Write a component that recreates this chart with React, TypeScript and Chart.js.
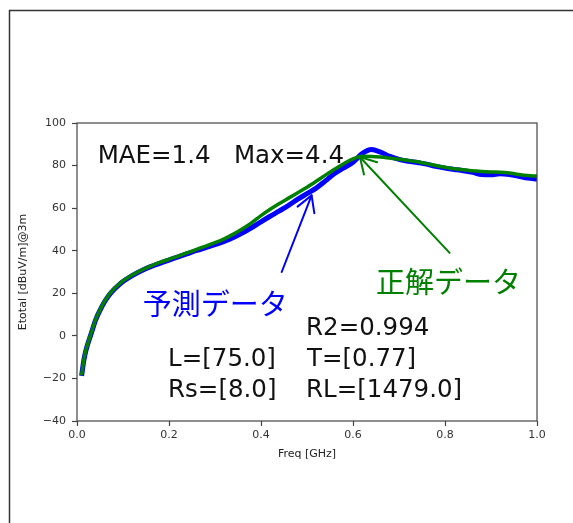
import React, { useEffect, useRef } from "react";
import { Chart, registerables } from "chart.js";

Chart.register(...registerables);

// ---- data ----
const freqGHz = [
  0.01, 0.015, 0.02, 0.03, 0.04, 0.05, 0.06, 0.07, 0.08, 0.09,
  0.1, 0.12, 0.14, 0.16, 0.18, 0.2, 0.22, 0.24, 0.26, 0.28,
  0.3, 0.32, 0.34, 0.36, 0.38, 0.4, 0.42, 0.44, 0.46, 0.48,
  0.5, 0.52, 0.54, 0.56, 0.58, 0.6, 0.62, 0.64, 0.66, 0.68,
  0.7, 0.72, 0.74, 0.76, 0.78, 0.8, 0.82, 0.84, 0.86, 0.88,
  0.9, 0.92, 0.94, 0.96, 0.98, 1.0,
];

// 正解データ (ground truth, green)
const truthValues = [
  -18.5, -11, -6, 0.8, 7.5, 12.3, 16.3, 19.5, 22, 24,
  25.8, 28.6, 30.9, 32.8, 34.5, 36, 37.5, 39.1, 40.6, 42.2,
  43.8, 45.6, 47.8, 50.3, 53.2, 56.5, 59.5, 62.2, 64.7, 67.2,
  69.8, 72.6, 75.5, 78.3, 80.9, 83.1, 84.4, 84.3, 84, 83.5,
  83, 82.4, 81.8, 80.9, 80, 79.2, 78.5, 78, 77.6, 77.2,
  77, 76.9, 76.5, 75.8, 75.3, 75.1,
];

// 予測データ (prediction, blue)
const predValues = [
  -18.8, -11.3, -6.3, 0.5, 7.2, 12, 16, 19.2, 21.7, 23.7,
  25.5, 28.3, 30.6, 32.5, 34.1, 35.6, 37.1, 38.6, 40.1, 41.5,
  42.9, 44.4, 46.2, 48.4, 50.9, 53.6, 56.2, 58.7, 61.3, 64.2,
  66.8, 69.4, 72.8, 76.3, 78.9, 81.6, 85.6, 87.5, 86.3, 84.3,
  82.9, 82, 81.4, 80.7, 79.6, 78.8, 78.2, 77.6, 76.8, 75.8,
  75.7, 76.2, 75.8, 75, 74.1, 73.6,
];

const xTickValues = [0, 0.2, 0.4, 0.6, 0.8, 1.0];
const yTickValues = [-40, -20, 0, 20, 40, 60, 80, 100];

const xAxisTitle = "Freq [GHz]";
const yAxisTitle = "Etotal [dBuV/m]@3m";

// annotation texts and their anchors in data units [freq, value]
const statsText = "MAE=1.4   Max=4.4";
const statsAnchor = [0.045, 81];
const r2Text = "R2=0.994";
const r2Anchor = [0.498, 0.4];
const paramTexts = ["L=[75.0]", "T=[0.77]", "Rs=[8.0]", "RL=[1479.0]"];
const paramAnchors = [
  [0.198, -14.2],
  [0.5, -14.2],
  [0.198, -28.6],
  [0.498, -28.6],
];
const predLabel = "予測データ";
const predLabelAnchor = [0.143, 10];
const truthLabel = "正解データ";
const truthLabelAnchor = [0.65, 20];
const predArrow = [
  [0.445, 30],
  [0.51, 66],
];
const truthArrow = [
  [0.81, 39],
  [0.615, 84],
];

const BLUE = "#0000ff";
const GREEN = "#008000";
const AXIS = "#444";
const LATIN = "'DejaVu Sans', 'Liberation Sans', sans-serif";
const CJK = "'Noto Sans CJK JP', 'Noto Sans CJK SC', sans-serif";

function drawArrow(ctx: CanvasRenderingContext2D, x0: number, y0: number, x1: number, y1: number, color: string) {
  const ang = Math.atan2(y1 - y0, x1 - x0);
  const head = 18;
  const spread = (30 * Math.PI) / 180;
  ctx.strokeStyle = color;
  ctx.lineWidth = 2;
  ctx.lineCap = "round";
  ctx.lineJoin = "round";
  ctx.beginPath();
  ctx.moveTo(x0, y0);
  ctx.lineTo(x1, y1);
  ctx.stroke();
  ctx.beginPath();
  ctx.moveTo(x1 - head * Math.cos(ang - spread), y1 - head * Math.sin(ang - spread));
  ctx.lineTo(x1, y1);
  ctx.lineTo(x1 - head * Math.cos(ang + spread), y1 - head * Math.sin(ang + spread));
  ctx.stroke();
}

const overlayPlugin = {
  id: "overlay",
  beforeDraw(chart: any) {
    const ctx: CanvasRenderingContext2D = chart.ctx;
    ctx.save();
    ctx.fillStyle = "#ffffff";
    ctx.fillRect(0, 0, chart.width, chart.height);
    // outer frame (top and left edges)
    ctx.strokeStyle = "#333";
    ctx.lineWidth = 1.5;
    ctx.beginPath();
    ctx.moveTo(9.5, chart.height);
    ctx.lineTo(9.5, 10.5);
    ctx.lineTo(chart.width, 10.5);
    ctx.stroke();
    ctx.restore();
  },
  afterDatasetsDraw(chart: any) {
    const ctx: CanvasRenderingContext2D = chart.ctx;
    const xs = chart.scales.x;
    const ys = chart.scales.y;
    const px = (v: number) => xs.getPixelForValue(v);
    const py = (v: number) => ys.getPixelForValue(v);
    const area = chart.chartArea;
    ctx.save();

    // axes frame (all four spines)
    ctx.strokeStyle = AXIS;
    ctx.lineWidth = 1.2;
    ctx.strokeRect(area.left, area.top, area.right - area.left, area.bottom - area.top);

    // arrows
    drawArrow(ctx, px(predArrow[0][0]), py(predArrow[0][1]), px(predArrow[1][0]), py(predArrow[1][1]), BLUE);
    drawArrow(ctx, px(truthArrow[0][0]), py(truthArrow[0][1]), px(truthArrow[1][0]), py(truthArrow[1][1]), GREEN);

    // black statistics text
    ctx.fillStyle = "#111";
    ctx.textAlign = "left";
    ctx.textBaseline = "alphabetic";
    ctx.font = `24.5px ${LATIN}`;
    ctx.fillText(statsText, px(statsAnchor[0]), py(statsAnchor[1]));
    ctx.fillText(r2Text, px(r2Anchor[0]), py(r2Anchor[1]));
    paramTexts.forEach((t, i) => {
      ctx.fillText(t, px(paramAnchors[i][0]), py(paramAnchors[i][1]));
    });

    // Japanese labels
    ctx.font = `29px ${CJK}`;
    ctx.fillStyle = BLUE;
    ctx.fillText(predLabel, px(predLabelAnchor[0]), py(predLabelAnchor[1]));
    ctx.fillStyle = GREEN;
    ctx.fillText(truthLabel, px(truthLabelAnchor[0]), py(truthLabelAnchor[1]));

    ctx.restore();
  },
};

const fmtNum = (v: number, digits: number) => {
  const s = Math.abs(v).toFixed(digits);
  return v < 0 ? "\u2212" + s : s;
};

export default function App() {
  const ref = useRef<HTMLCanvasElement>(null);

  useEffect(() => {
    if (!ref.current) return;
    const truthData = freqGHz.map((f, i) => ({ x: f, y: truthValues[i] }));
    const predData = freqGHz.map((f, i) => ({ x: f, y: predValues[i] }));

    const chart = new Chart(ref.current, {
      type: "line",
      data: {
        datasets: [
          {
            label: truthLabel,
            data: truthData,
            borderColor: GREEN,
            borderWidth: 3.5,
            pointRadius: 0,
            cubicInterpolationMode: "monotone",
            fill: false,
            clip: 0,
          },
          {
            label: predLabel,
            data: predData,
            borderColor: BLUE,
            borderWidth: 5,
            pointRadius: 0,
            cubicInterpolationMode: "monotone",
            fill: false,
            clip: 0,
          },
        ],
      },
      options: {
        responsive: false,
        animation: false,
        devicePixelRatio: 1,
        layout: { padding: { top: 123, right: 36, left: 0, bottom: 0 } },
        plugins: {
          legend: { display: false },
          tooltip: { enabled: false },
          title: { display: false },
        },
        events: [],
        scales: {
          x: {
            type: "linear",
            min: 0,
            max: 1,
            afterFit: (s: any) => {
              s.height = 102;
            },
            afterBuildTicks: (s: any) => {
              s.ticks = xTickValues.map((v) => ({ value: v }));
            },
            ticks: {
              padding: 3,
              color: "#333",
              font: { family: LATIN, size: 11 },
              maxRotation: 0,
              autoSkip: false,
              callback: (v: any) => fmtNum(Number(v), 1),
            },
            grid: {
              display: true,
              drawOnChartArea: false,
              drawTicks: true,
              tickLength: 5,
              tickColor: AXIS,
              tickWidth: 1.2,
            },
            border: { display: false },
            title: {
              display: true,
              text: xAxisTitle,
              color: "#222",
              font: { family: LATIN, size: 11 },
              padding: { top: 0, bottom: 62 },
            },
          },
          y: {
            type: "linear",
            min: -40,
            max: 100,
            afterFit: (s: any) => {
              s.width = 77;
            },
            afterBuildTicks: (s: any) => {
              s.ticks = yTickValues.map((v) => ({ value: v }));
            },
            ticks: {
              padding: 6,
              color: "#333",
              font: { family: LATIN, size: 11 },
              autoSkip: false,
              callback: (v: any) => fmtNum(Number(v), 0),
            },
            grid: {
              display: true,
              drawOnChartArea: false,
              drawTicks: true,
              tickLength: 5,
              tickColor: AXIS,
              tickWidth: 1.2,
            },
            border: { display: false },
            title: {
              display: true,
              text: yAxisTitle,
              color: "#222",
              font: { family: LATIN, size: 11 },
              padding: { top: 17, bottom: 0 },
            },
          },
        },
      },
      plugins: [overlayPlugin],
    } as any);

    return () => chart.destroy();
  }, []);

  return (
    <div style={{ position: "fixed", left: 0, top: 0, width: 573, height: 523, background: "#fff" }}>
      <canvas ref={ref} width={573} height={523} style={{ display: "block", width: 573, height: 523 }} />
    </div>
  );
}
